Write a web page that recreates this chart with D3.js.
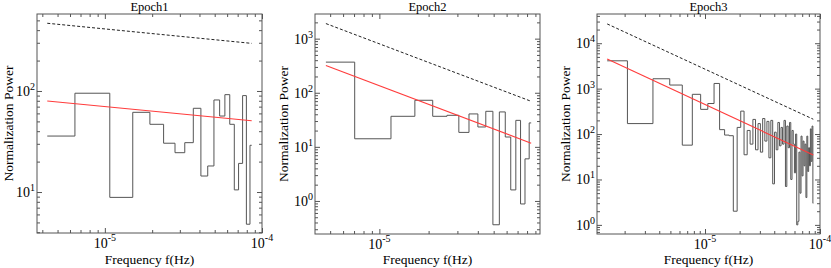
<!DOCTYPE html>
<html>
<head>
<meta charset="utf-8">
<script src="https://cdn.jsdelivr.net/npm/d3@7"></script>
<style>
  body { margin: 0; background: #fff; }
  text { font-family: "Liberation Serif", "Times New Roman", serif; fill: #000; }
</style>
</head>
<body>
<svg width="831" height="268"></svg>
<script>
const titles = ["Epoch1", "Epoch2", "Epoch3"]

// frequencies in units of 1e-6 Hz, powers
const freq1 = [4.3, 8.6, 12.9, 17.2, 21.5, 25.8, 30.1, 34.4, 38.7, 43.0,
  47.3, 51.6, 55.9, 60.2, 64.5, 68.8, 73.1, 77.4, 81.7, 86.0]
const power1 = [35.8, 95, 8.85, 61.5, 46.8, 30.4, 24.5, 30.8, 67.4, 14.4,
  18.1, 81.5, 56.5, 92, 46.8, 10.5, 19.2, 90, 4.8, 29]

const freq2 = [4.71, 9.42, 14.13, 18.84, 23.55, 28.26, 32.97, 37.68, 42.39,
  47.1, 51.81, 56.52, 61.23, 65.94, 70.65, 75.36, 80.07, 84.78]
const power2 = [368, 14.1, 36.7, 72.6, 36.7, 38.3, 18.5, 40.6, 23.3,
  45.4, 0.363, 44.2, 15.2, 1.6, 30.9, 0.88, 6.0, 27.7]

const freq3 = [1.41, 2.82, 4.23, 5.64, 7.05, 8.46, 9.87, 11.28, 12.69, 14.1,
  15.51, 16.92, 18.33, 19.74, 21.15, 22.56, 23.97, 25.38, 26.79, 28.2,
  29.61, 31.02, 32.43, 33.84, 35.25, 36.66, 38.07, 39.48, 40.89, 42.3,
  43.71, 45.12, 46.53, 47.94, 49.35, 50.76, 52.17, 53.58, 54.99, 56.4,
  57.81, 59.22, 60.63, 62.04, 63.45, 64.86, 66.27, 67.68, 69.09, 70.5,
  71.91, 73.32, 74.73, 76.14, 77.55, 78.96, 80.37, 81.78, 83.19, 84.6,
  86.01, 87.42]
const power3 = [4100, 170, 1650, 1200, 57, 750, 350, 470, 1300, 125,
  95, 92, 2, 140, 320, 35, 120, 60, 210, 45,
  170, 40, 220, 70, 190, 30, 200, 8, 110, 45,
  180, 55, 140, 60, 200, 7, 150, 50, 180, 10,
  120, 60, 14, 100, 1, 1.2, 40, 5, 90, 12,
  70, 20, 60, 4, 90, 15, 50, 20, 130, 25,
  150, 3]

// red power-law fit and dashed line, values at first and last frequency
const fit1 = [79.6, 50.8]
const fit2 = [320, 11.7]
const fit3 = [4510, 34.7]
const upper1 = [468, 296]
const upper2 = [1900, 69.5]
const upper3 = [26600, 212]

// axis ranges
const xRange1 = [3.7e-6, 1e-4]
const xRange2 = [4.04e-6, 9.6e-5]
const xRange3 = [1.15e-6, 1e-4]
const yRange1 = [3.93, 578]
const yRange2 = [0.245, 2855]
const yRange3 = [0.63, 44000]

const panels = [
  {title: titles[0], freq: freq1, power: power1, fit: fit1, upper: upper1, xRange: xRange1, yRange: yRange1,
    box: {left: 37, right: 262, top: 14, bottom: 233}, labelX: 8},
  {title: titles[1], freq: freq2, power: power2, fit: fit2, upper: upper2, xRange: xRange2, yRange: yRange2,
    box: {left: 315, right: 540, top: 14, bottom: 234}, labelX: 283},
  {title: titles[2], freq: freq3, power: power3, fit: fit3, upper: upper3, xRange: xRange3, yRange: yRange3,
    box: {left: 597, right: 820, top: 14, bottom: 234}, labelX: 565}
]

const svg = d3.select("svg")

panels.forEach((p) => drawPanel(p))

function drawPanel(p) {
  const box = p.box
  const x = d3.scaleLog().domain(p.xRange).range([box.left, box.right])
  const y = d3.scaleLog().domain(p.yRange).range([box.bottom, box.top])
  const g = svg.append("g")

  const isMajor = (v) => Math.abs(Math.log10(v) - Math.round(Math.log10(v))) < 1e-6
  const xMajor = x.ticks().filter(isMajor)
  const xMinor = x.ticks().filter((v) => !isMajor(v))
  const yMajor = y.ticks().filter(isMajor)
  const yMinor = y.ticks().filter((v) => !isMajor(v))

  // tick marks on all four sides, pointing inward
  const sides = [
    [() => d3.axisBottom(x), `translate(0,${box.bottom})`, xMajor, xMinor],
    [() => d3.axisTop(x), `translate(0,${box.top})`, xMajor, xMinor],
    [() => d3.axisLeft(y), `translate(${box.left},0)`, yMajor, yMinor],
    [() => d3.axisRight(y), `translate(${box.right},0)`, yMajor, yMinor]
  ]
  sides.forEach(([axis, tr, major, minor]) => {
    [[major, -5], [minor, -3]].forEach(([vals, size]) => {
      g.append("g")
        .attr("transform", tr)
        .style("color", "#555")
        .call(axis().tickValues(vals).tickSize(size).tickSizeOuter(0).tickFormat(""))
        .call((a) => a.select(".domain").remove())
    })
  })

  g.append("rect")
    .attr("x", box.left).attr("y", box.top)
    .attr("width", box.right - box.left).attr("height", box.bottom - box.top)
    .attr("fill", "none").attr("stroke", "#555").attr("stroke-width", 1)

  // tick labels 10^n
  xMajor.forEach((v) => {
    const t = g.append("text")
      .attr("x", x(v)).attr("y", box.bottom + 15)
      .attr("text-anchor", "middle")
      .style("font-size", "14px")
    t.append("tspan").text("10")
    t.append("tspan").attr("dy", -7).style("font-size", "10px").text(Math.round(Math.log10(v)))
  })
  yMajor.forEach((v) => {
    const t = g.append("text")
      .attr("x", box.left - 2).attr("y", y(v) + 5)
      .attr("text-anchor", "end")
      .style("font-size", "14px")
    t.append("tspan").text("10")
    t.append("tspan").attr("dy", -6).style("font-size", "10px").text(Math.round(Math.log10(v)))
  })

  // step histogram (IDL psym=10 style)
  const f = p.freq.map((d) => d * 1e-6)
  const pts = []
  f.forEach((fi, i) => {
    const lo = i === 0 ? fi : (f[i - 1] + fi) / 2
    const hi = i === f.length - 1 ? fi : (fi + f[i + 1]) / 2
    pts.push([lo, p.power[i]], [hi, p.power[i]])
  })
  const line = d3.line().x((d) => x(d[0])).y((d) => y(d[1]))

  g.append("path")
    .attr("d", line(pts))
    .attr("fill", "none").attr("stroke", "#555").attr("stroke-width", 1)

  const ends = [f[0], f[f.length - 1]]
  g.append("path")
    .attr("d", line(ends.map((fv, i) => [fv, p.fit[i]])))
    .attr("fill", "none").attr("stroke", "#ff3c3c").attr("stroke-width", 1.1)

  g.append("path")
    .attr("d", line(ends.map((fv, i) => [fv, p.upper[i]])))
    .attr("fill", "none").attr("stroke", "#222").attr("stroke-width", 1)
    .attr("stroke-dasharray", "3,2")

  // titles
  const cx = (box.left + box.right) / 2
  g.append("text")
    .attr("x", cx).attr("y", 11)
    .attr("text-anchor", "middle")
    .style("font-size", "12.5px")
    .text(p.title)

  g.append("text")
    .attr("x", cx).attr("y", 264)
    .attr("text-anchor", "middle")
    .style("font-size", "13.5px")
    .text("Frequency f(Hz)")

  g.append("text")
    .attr("transform", `translate(${p.labelX},${(box.top + box.bottom) / 2}) rotate(-90)`)
    .attr("dy", "0.35em")
    .attr("text-anchor", "middle")
    .style("font-size", "13.5px")
    .text("Normalization Power")
}
</script>
</body>
</html>
